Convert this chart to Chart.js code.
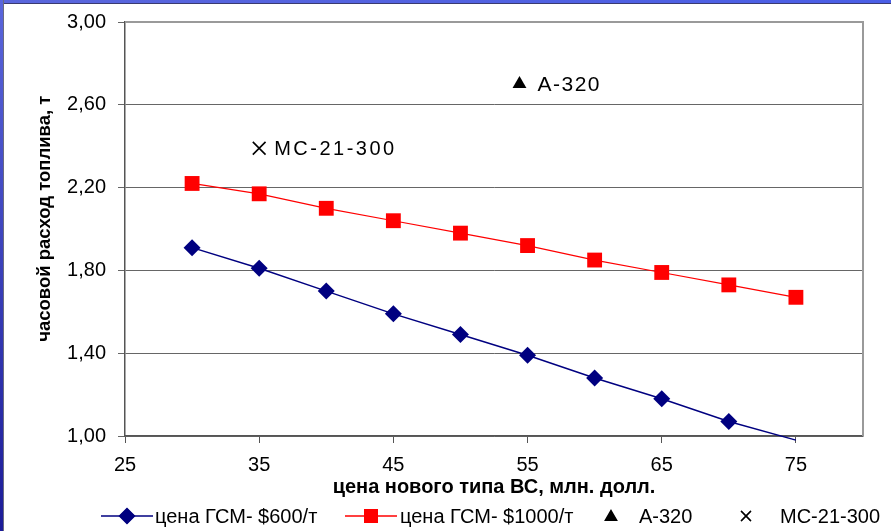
<!DOCTYPE html>
<html>
<head>
<meta charset="utf-8">
<script src="https://cdn.jsdelivr.net/npm/chart.js@4.4.1/dist/chart.umd.min.js"></script>
<style>
  html, body { margin: 0; padding: 0; background: #ffffff; }
  #wrap { position: relative; width: 891px; height: 531px; overflow: hidden; background: #ffffff; }
  #topStrip { position: absolute; left: 0; top: 0; width: 891px; height: 3px;
    background: linear-gradient(to right, #5a66dc, #4a5ee6); border-bottom: 1px solid #3a3a70; }
  #leftStrip { position: absolute; left: 0; top: 0; width: 3px; height: 531px;
    background: linear-gradient(to bottom, #5a66dc, #1c1c98); border-right: 1px solid #6a6a80; }
  canvas { position: absolute; left: 0; top: 0; }
</style>
</head>
<body>
<div id="wrap">
  <div id="topStrip"></div>
  <div id="leftStrip"></div>
  <canvas id="chart" width="891" height="531"></canvas>
</div>
<script>
// Aircraft price, million USD
const prices = [30, 35, 40, 45, 50, 55, 60, 65, 70, 75];
// Hourly fuel burn, t, at two fuel prices
const fuel600 = [1.91, 1.81, 1.70, 1.59, 1.49, 1.39, 1.28, 1.18, 1.07, 0.98];
const fuel1000 = [2.22, 2.17, 2.10, 2.04, 1.98, 1.92, 1.85, 1.79, 1.73, 1.67];
// Reference aircraft
const a320 = { x: 54.4, y: 2.70 };
const mc21 = { x: 35, y: 2.39 };

const seriesNames = ['цена ГСМ- $600/т', 'цена ГСМ- $1000/т', 'A-320', 'МС-21-300'];
const xTicks = [25, 35, 45, 55, 65, 75];
const yTicks = [1.0, 1.4, 1.8, 2.2, 2.6, 3.0];

const Y_MIN = 1.0, Y_MAX = 3.0, X_MIN = 25, X_MAX = 80;

const FONT = 'Arial, "Liberation Sans", sans-serif';
const toPoints = (xs, ys) => xs.map((x, i) => ({ x: x, y: ys[i] }));
const fmtY = v => v.toFixed(2).replace('.', ',');

// Frame on the top and right sides of the plot area
const plotFrame = {
  id: 'plotFrame',
  beforeDatasetsDraw(chart) {
    const { ctx, chartArea: a } = chart;
    ctx.save();
    ctx.strokeStyle = '#9a9a9a';
    ctx.lineWidth = 2;
    ctx.beginPath();
    ctx.moveTo(a.left, a.top);
    ctx.lineTo(a.right, a.top);
    ctx.lineTo(a.right, a.bottom);
    ctx.stroke();
    ctx.restore();
  }
};

// Names written next to the single-aircraft points
const pointNames = {
  id: 'pointNames',
  afterDatasetsDraw(chart) {
    const { ctx } = chart;
    const xs = chart.scales.x, ys = chart.scales.y;
    ctx.save();
    ctx.fillStyle = '#000000';
    ctx.font = '21px ' + FONT;
    ctx.letterSpacing = '1.5px';
    ctx.textBaseline = 'middle';
    ctx.textAlign = 'left';
    ctx.fillText(seriesNames[2], xs.getPixelForValue(a320.x) + 18, ys.getPixelForValue(a320.y) + 1);
    ctx.font = '20px ' + FONT;
    ctx.letterSpacing = '2.5px';
    ctx.fillText(seriesNames[3], xs.getPixelForValue(mc21.x) + 15, ys.getPixelForValue(mc21.y) + 1);
    ctx.restore();
  }
};

// Legend row under the axis title
const legendRow = {
  id: 'legendRow',
  afterDraw(chart) {
    const { ctx } = chart;
    const y = 516;
    const marks = [127, 371, 611, 746];
    const texts = [155, 400, 639, 780];
    ctx.save();
    // series 1: line with diamond
    ctx.strokeStyle = '#000080';
    ctx.lineWidth = 1.5;
    ctx.beginPath(); ctx.moveTo(marks[0] - 26, y); ctx.lineTo(marks[0] + 26, y); ctx.stroke();
    ctx.beginPath();
    Chart.helpers.drawPoint(ctx, { pointStyle: 'rectRot', radius: 7.5, borderWidth: 1 }, marks[0], y);
    ctx.fillStyle = '#000080';
    ctx.fill();
    // series 2: line with square
    ctx.strokeStyle = '#ff0000';
    ctx.lineWidth = 1.5;
    ctx.beginPath(); ctx.moveTo(marks[1] - 26, y); ctx.lineTo(marks[1] + 26, y); ctx.stroke();
    ctx.fillStyle = '#ff0000';
    ctx.fillRect(marks[1] - 7, y - 7, 14, 14);
    // triangle
    ctx.fillStyle = '#000000';
    ctx.strokeStyle = '#000000';
    ctx.beginPath();
    Chart.helpers.drawPoint(ctx, { pointStyle: 'triangle', radius: 6.5, borderWidth: 1 }, marks[2], y + 1);
    ctx.fill();
    // cross
    ctx.lineWidth = 1.3;
    ctx.beginPath();
    Chart.helpers.drawPoint(ctx, { pointStyle: 'crossRot', radius: 7, borderWidth: 1.3 }, marks[3], y);
    ctx.stroke();
    // labels
    ctx.font = '20px ' + FONT;
    ctx.textBaseline = 'middle';
    ctx.textAlign = 'left';
    ctx.fillStyle = '#000000';
    seriesNames.forEach((t, i) => ctx.fillText(t, texts[i], y + 1));
    ctx.restore();
  }
};

new Chart(document.getElementById('chart'), {
  type: 'line',
  data: {
    datasets: [
      {
        label: seriesNames[0],
        data: toPoints(prices, fuel600),
        borderColor: '#000080',
        backgroundColor: '#000080',
        borderWidth: 1.5,
        pointStyle: 'rectRot',
        pointRadius: ctx => (ctx.raw && ctx.raw.y < Y_MIN ? 0 : 8.5),
        pointBorderWidth: 0,
        clip: { left: 0, top: 0, right: 0, bottom: 6 },
        order: 2
      },
      {
        label: seriesNames[1],
        data: toPoints(prices, fuel1000),
        borderColor: '#ff0000',
        backgroundColor: '#ff0000',
        borderWidth: 1.2,
        pointStyle: 'rect',
        pointRadius: 10.5,
        pointBorderWidth: 0,
        order: 1
      },
      {
        label: seriesNames[2],
        data: [a320],
        showLine: false,
        borderColor: '#000000',
        backgroundColor: '#000000',
        pointStyle: 'triangle',
        pointRadius: 8,
        pointBorderWidth: 0
      },
      {
        label: seriesNames[3],
        data: [mc21],
        showLine: false,
        borderColor: '#000000',
        backgroundColor: '#000000',
        pointStyle: 'crossRot',
        pointRadius: 9,
        pointBorderWidth: 1.6
      }
    ]
  },
  options: {
    responsive: false,
    animation: false,
    events: [],
    layout: { padding: { left: 0, top: 21, right: 28, bottom: 25 } },
    plugins: { legend: { display: false }, tooltip: { enabled: false } },
    scales: {
      x: {
        type: 'linear',
        min: X_MIN,
        max: X_MAX,
        afterBuildTicks: s => { s.ticks = xTicks.map(v => ({ value: v })); },
        afterFit: s => { s.height = 70; },
        grid: { drawOnChartArea: false, drawTicks: true, tickLength: 7, color: '#555555', lineWidth: 1 },
        border: { color: '#555555', width: 1.5 },
        ticks: {
          color: '#000000',
          padding: 10,
          font: { family: FONT, size: 20 },
          maxRotation: 0,
          autoSkip: false
        },
        title: {
          display: true,
          text: 'цена нового типа ВС, млн. долл.',
          color: '#000000',
          font: { family: FONT, size: 20, weight: 'bold' },
          padding: { top: 0, bottom: 7 }
        }
      },
      y: {
        min: Y_MIN,
        max: Y_MAX,
        afterBuildTicks: s => { s.ticks = yTicks.map(v => ({ value: v })); },
        afterFit: s => { s.width = 125; },
        grid: { color: '#666666', lineWidth: 1, tickLength: 7 },
        border: { color: '#555555', width: 1.5 },
        ticks: {
          color: '#000000',
          padding: 12,
          font: { family: FONT, size: 20, lineHeight: 1 },
          callback: v => fmtY(v)
        },
        title: {
          display: true,
          // leading blanks lift the rotated title slightly above the axis centre
          text: '    часовой расход топлива, т',
          color: '#000000',
          font: { family: FONT, size: 18.5, weight: 'bold' },
          padding: { top: 34, bottom: 0 }
        }
      }
    }
  },
  plugins: [plotFrame, pointNames, legendRow]
});
</script>
</body>
</html>
